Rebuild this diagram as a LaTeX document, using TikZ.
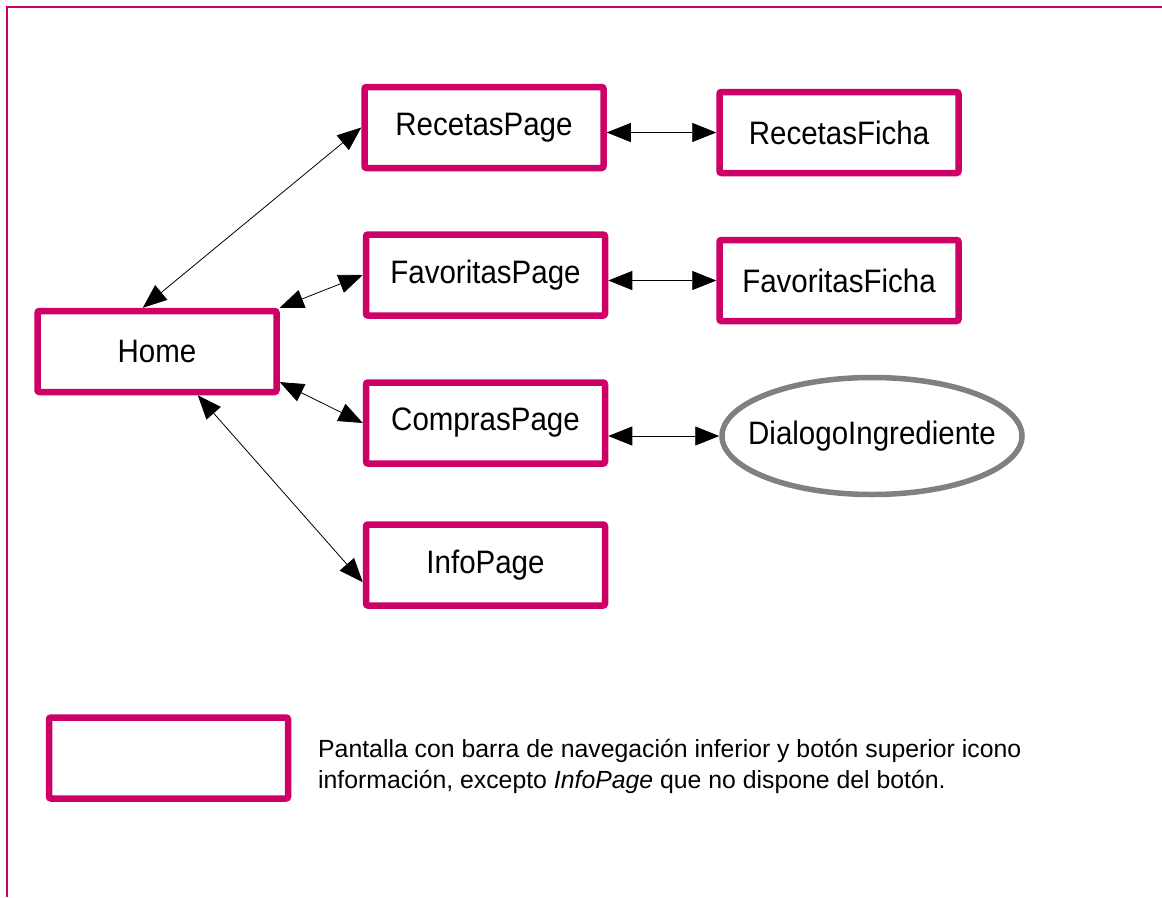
\documentclass[tikz,border=0pt]{standalone}
\usepackage{fontspec}
\setmainfont{Liberation Sans}
\usetikzlibrary{arrows.meta,shapes.geometric}
\definecolor{screen}{RGB}{204,0,102}
\definecolor{dialog}{RGB}{128,128,128}
\newcommand{\tall}[1]{\scalebox{1}[1.1]{#1}}
\tikzset{
  pagebox/.style={draw=screen, line width=6.5pt, rounded corners=2pt,
    minimum width=239pt, minimum height=81pt, inner sep=0pt,
    font=\fontsize{29.5}{34}\selectfont},
  dlgbox/.style={ellipse, draw=dialog, line width=5.5pt,
    minimum width=300pt, minimum height=117pt, inner sep=0pt},
  dlgtext/.style={font=\fontsize{29.5}{34}\selectfont, inner sep=0pt},
  nav/.style={draw=black, line width=0.8pt,
    {Triangle[length=24pt,width=19pt]}-{Triangle[length=24pt,width=19pt]}}
}
\begin{document}
\begin{tikzpicture}[x=1pt,y=-1pt]
\useasboundingbox (0,0) rectangle (1162,897);
% frame edges
\draw[screen, line width=1.5pt] (7,897) -- (7,7) -- (1162,7);

% screens
\node[pagebox] (home)     at (157,351.5) {\tall{Home}};
\node[pagebox] (recetas)  at (484,127.5) {\tall{RecetasPage}};
\node[pagebox] (rficha)   at (839,132.5) {\tall{RecetasFicha}};
\node[pagebox] (favs)     at (485.5,275) {\tall{FavoritasPage}};
\node[pagebox] (fficha)   at (839,280.5) {\tall{FavoritasFicha}};
\node[pagebox] (compras)  at (485.5,423) {\tall{ComprasPage}};
\node[dlgbox]  (dialogo)  at (872,436)   {};
\node[dlgtext] (dlglabel) at (dialogo.center) {\tall{DialogoIngrediente}};
\node[pagebox] (info)     at (485.5,565) {\tall{InfoPage}};

% navigation links
\draw[nav] (home.108) -- (recetas.west);
\draw[nav] (home.north east) -- (favs.west);
\draw[nav] (home.-14) -- (compras.west);
\draw[nav] (home.-47) -- (info.188);
\draw[nav] (recetas.east |- rficha.west) -- (rficha.west);
\draw[nav] (favs.east |- fficha.west) -- (fficha.west);
\draw[nav] (compras.east |- dialogo.west) -- (dialogo.west);

% legend
\node[pagebox] (legend) at (168.5,758) {};
\node[anchor=north west, align=left, inner sep=0pt,
      font=\fontsize{24.8}{31}\selectfont] (legtext) at (318,739)
  {Pantalla con barra de navegación inferior y botón superior icono\\
   información, excepto \textit{InfoPage} que no dispone del botón.};
\end{tikzpicture}
\end{document}
